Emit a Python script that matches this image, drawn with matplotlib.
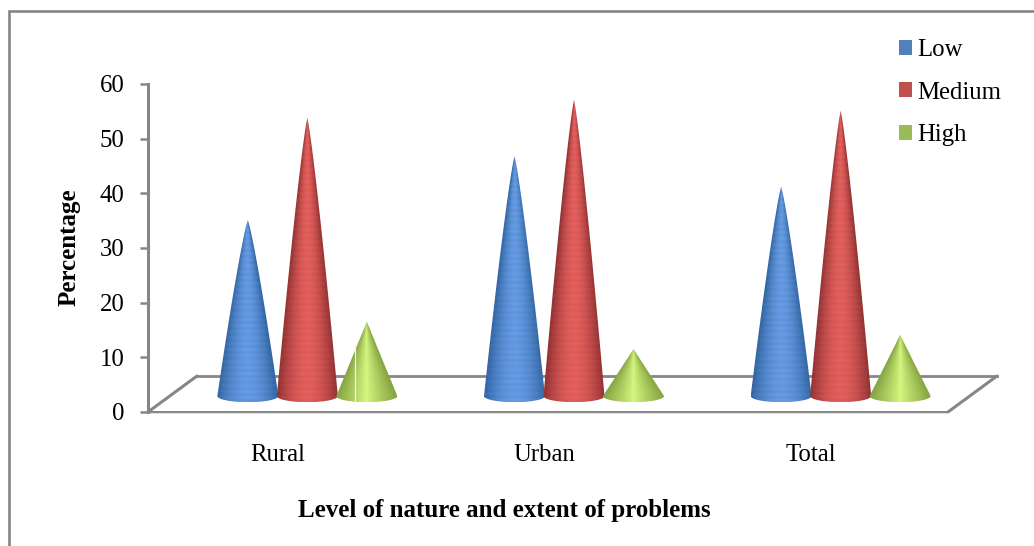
import numpy as np
import matplotlib
matplotlib.use("Agg")
import matplotlib.pyplot as plt
from matplotlib.patches import Patch, PathPatch
from matplotlib.path import Path
from matplotlib.lines import Line2D
from matplotlib.transforms import ScaledTranslation

categories = ["Rural", "Urban", "Total"]
series = ["Low", "Medium", "High"]
low = [35.1, 46.8, 41.2]
medium = [53.8, 57.1, 55.1]
high = [16.5, 11.5, 14.1]
y_ticks = [0, 10, 20, 30, 40, 50, 60]

legend_colors = ["#4f81bd", "#c0504d", "#9bbb59"]
edge_colors = [np.array(c) for c in ([0.20, 0.40, 0.64], [0.58, 0.20, 0.20], [0.52, 0.64, 0.26])]
mid_colors = [np.array(c) for c in ([0.39, 0.60, 0.88], [0.88, 0.37, 0.36], [0.84, 0.97, 0.50])]
band_amt = [0.035, 0.035, 0.0]
curves = [0.85, 0.85, 1.0]
shade_pow = [1.8, 1.8, 0.9]

plt.rcParams["font.family"] = ["Liberation Serif", "DejaVu Serif"]
W, H, DPI = 1034, 546, 100
GRAY = "#868686"
FS = 17.8

fig = plt.figure(figsize=(W / DPI, H / DPI), dpi=DPI, facecolor="white")
ax = fig.add_axes([148 / W, 1 - 412 / H, 800 / W, 328 / H])
ax.set_xlim(-0.5, 2.5)
ax.set_ylim(0, 60)
ax.patch.set_alpha(0)

px_x = 800 / 3
px_y = 328 / 60
depth_x, depth_y = 49, 36
back = ax.transData + ScaledTranslation(depth_x / DPI, depth_y / DPI, fig.dpi_scale_trans)

# floor of the 3-D box
ax.plot([-0.5, 2.5], [0, 0], transform=back, color=GRAY, lw=2.0, clip_on=False, zorder=1)
for xv in (-0.5, 2.5):
    ax.plot([xv, xv + depth_x / px_x], [0, depth_y / px_y], color=GRAY, lw=2.2,
            clip_on=False, zorder=1, solid_capstyle="round")
ax.plot([-0.5, 2.5], [-0.18, -0.18], color="#dcdcdc", lw=1.2, clip_on=False, zorder=1)

# cones
base_y = (412 - 396) / px_y
semi_w = 30.5 / px_x
semi_h = 6.2 / px_y
offset_x = 26 / px_x
step_x = 59.5 / px_x
values = [low, medium, high]

for j, vals in enumerate(values):
    curve = curves[j]
    for i, v in enumerate(vals):
        cx = i + offset_x + (j - 1) * step_x
        s = np.linspace(0, 1, 40)
        yy = v - s * (v - base_y)
        right = [(cx + semi_w * a ** curve, b) for a, b in zip(s, yy)]
        left = [(cx - semi_w * a ** curve, b) for a, b in zip(s[::-1], yy[::-1])]
        th = np.linspace(0, np.pi, 40)
        arc = [(cx + semi_w * np.cos(t), base_y - semi_h * np.sin(t)) for t in th]
        verts = right + arc + left
        clip = PathPatch(Path(verts, closed=False), transform=ax.transData, fc="none", ec="none")
        ax.add_patch(clip)

        ny = int((v - base_y + semi_h) * px_y) + 1
        nx = 80
        ys = np.linspace(v, base_y - semi_h, ny)
        xs = np.linspace(cx - semi_w, cx + semi_w, nx)
        X, Y = np.meshgrid(xs, ys)
        local = semi_w * np.clip((v - Y) / (v - base_y), 0.001, 1) ** curve
        u = np.clip(np.abs(X - cx) / local, 0, 1)
        shade = (u ** shade_pow[j])[..., None]
        img = mid_colors[j] * (1 - shade) + edge_colors[j] * shade
        rows = (np.arange(ny) // 3) % 2
        band = 1 + band_amt[j] * (rows - 0.5)
        img = np.clip(img * band[:, None, None], 0, 1)
        im = ax.imshow(img, extent=(cx - semi_w, cx + semi_w, base_y - semi_h, v),
                       aspect="auto", interpolation="bilinear", zorder=2 + j)
        im.set_clip_path(clip)

# thin white scan artefact on the first green cone
gx = 0 + offset_x + step_x - 12 / px_x
ax.plot([gx, gx], [base_y - semi_h, (412 - 345) / px_y], color="#f2f2f2", lw=0.9, zorder=6)

ax.set_xlim(-0.5, 2.5)
ax.set_ylim(0, 60)

# axes
for s_name in ("top", "right"):
    ax.spines[s_name].set_visible(False)
ax.spines["left"].set_color(GRAY)
ax.spines["left"].set_linewidth(2.2)
ax.spines["bottom"].set_color(GRAY)
ax.spines["bottom"].set_linewidth(1.4)
ax.set_yticks(y_ticks)
ax.tick_params(axis="y", length=5.8, width=1.8, color=GRAY, pad=11, labelsize=FS, labelcolor="black")
ax.set_xticks(range(3))
ax.set_xticklabels(categories)
ax.tick_params(axis="x", length=0, pad=23, labelsize=FS, labelcolor="black")
shift = ScaledTranslation(-4 / DPI, 0, fig.dpi_scale_trans)
for lab in ax.get_xticklabels():
    lab.set_transform(lab.get_transform() + shift)

fig.text(69 / W, 1 - 247.5 / H, "Percentage", rotation=90, ha="center", va="center",
         fontsize=FS * 1.01, fontweight="bold")
fig.text(504.5 / W, 1 - 511 / H, "Level of nature and extent of problems", ha="center", va="center",
         fontsize=FS * 1.012, fontweight="bold")

handles = [Patch(facecolor=c, edgecolor="none", label=s) for c, s in zip(legend_colors, series)]
fig.legend(handles=handles, loc="upper left", bbox_to_anchor=(899 / W, 1 - 39 / H), frameon=False,
           fontsize=FS, handlelength=0.53, handleheight=0.53, handletextpad=0.2,
           labelspacing=0.83, borderpad=0, borderaxespad=0)

# outer chart border (only top and left are visible)
fig.add_artist(Line2D([8.5 / W, 8.5 / W, 1], [0, 1 - 11 / H, 1 - 11 / H], transform=fig.transFigure,
                      color=GRAY, lw=1.9, solid_joinstyle="miter"))

fig.savefig("out.png", dpi=DPI, facecolor="white")
